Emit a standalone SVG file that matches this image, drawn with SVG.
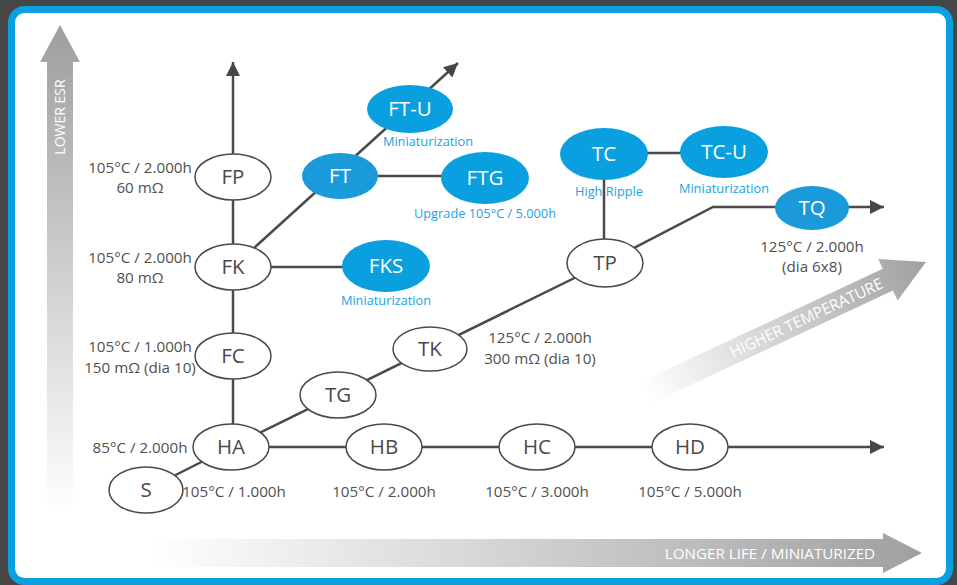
<svg xmlns="http://www.w3.org/2000/svg" width="957" height="585" viewBox="0 0 957 585">
<defs>
<linearGradient id="gUp" x1="0" y1="25" x2="0" y2="513" gradientUnits="userSpaceOnUse">
<stop offset="0" stop-color="#9e9e9e"/><stop offset="1" stop-color="#ffffff"/>
</linearGradient>
<linearGradient id="gRight" x1="150" y1="0" x2="922" y2="0" gradientUnits="userSpaceOnUse">
<stop offset="0" stop-color="#ffffff"/><stop offset="1" stop-color="#a0a0a0"/>
</linearGradient>
<linearGradient id="gDiag" x1="0" y1="0" x2="310" y2="0" gradientUnits="userSpaceOnUse">
<stop offset="0" stop-color="#ffffff"/><stop offset="1" stop-color="#a0a0a0"/>
</linearGradient>
<marker id="ah" markerUnits="userSpaceOnUse" markerWidth="15" markerHeight="15" refX="14" refY="7" orient="auto" viewBox="0 0 15 14">
<path d="M0,0 L14,7 L0,14 z" fill="#464646"/>
</marker>
<style>
.edge{stroke:#4a4a4a;stroke-width:2.5;fill:none}
.wn{fill:#ffffff;stroke:#4a4a4a;stroke-width:1.5}
.bn{fill:#0aa0e0}
.wt{font-family:"Open Sans","Noto Sans",sans-serif;font-size:20.5px;fill:#4a4a4a;text-anchor:middle}
.bt{font-family:"Open Sans","Noto Sans",sans-serif;font-size:20.5px;fill:#ffffff;text-anchor:middle}
.lab{font-family:"Open Sans","Noto Sans",sans-serif;font-size:15.2px;fill:#505050;text-anchor:middle}
.blab{font-family:"Open Sans","Noto Sans",sans-serif;font-size:12.8px;fill:#1aa3e2;text-anchor:middle}
.ax{font-family:"Open Sans","Noto Sans",sans-serif;font-size:14px;fill:#ffffff;text-anchor:middle}
</style>
</defs>
<rect x="0" y="0" width="957" height="585" fill="#464646"/>
<rect x="11.5" y="9.5" width="938" height="572" rx="13" fill="#ffffff" stroke="#0a9fe0" stroke-width="7"/>

<g id="axis-esr">
<path d="M47,513 L47,62 L40,62 L60,25 L80,62 L73,62 L73,513 z" fill="url(#gUp)"/>
<text class="ax" transform="translate(65,117) rotate(-90)">LOWER ESR</text>
</g>
<g id="axis-life">
<path d="M150,539 L883,539 L883,533 L922,553 L883,573 L883,567 L150,567 z" fill="url(#gRight)"/>
<text class="ax" x="770" y="559" style="font-size:15.2px">LONGER LIFE / MINIATURIZED</text>
</g>
<g id="axis-temp" transform="translate(645,393) rotate(-25)">
<path d="M0,-12 L268,-12 L268,-23 L310,0 L268,23 L268,12 L0,12 z" fill="url(#gDiag)"/>
<text class="ax" x="178" y="5.5" style="font-size:15.5px">HIGHER TEMPERATURE</text>
</g>

<g id="connectors">
<line class="edge" x1="233" y1="154" x2="233" y2="62" marker-end="url(#ah)"/>
<line class="edge" x1="233" y1="200" x2="233" y2="424"/>
<line class="edge" x1="146" y1="490" x2="231" y2="447"/>
<line class="edge" x1="231" y1="447" x2="605" y2="263"/>
<line class="edge" x1="231" y1="447" x2="884" y2="447" marker-end="url(#ah)"/>
<line class="edge" x1="233" y1="267" x2="458" y2="63" marker-end="url(#ah)"/>
<line class="edge" x1="340" y1="176" x2="485" y2="176"/>
<line class="edge" x1="233" y1="267" x2="386" y2="267"/>
<line class="edge" x1="604" y1="154" x2="604" y2="263"/>
<line class="edge" x1="604" y1="153" x2="724" y2="153"/>
<polyline class="edge" points="605,263 713,207 884,207" marker-end="url(#ah)"/>
</g>

<g id="FP"><ellipse class="wn" cx="233" cy="177" rx="38" ry="23"/><text class="wt" x="233" y="184">FP</text></g>
<g id="FK"><ellipse class="wn" cx="233" cy="267" rx="38" ry="23"/><text class="wt" x="233" y="274">FK</text></g>
<g id="FC"><ellipse class="wn" cx="233" cy="356" rx="38" ry="23"/><text class="wt" x="233" y="363">FC</text></g>
<g id="HA"><ellipse class="wn" cx="231" cy="447" rx="38" ry="23"/><text class="wt" x="231" y="454">HA</text></g>
<g id="S"><ellipse class="wn" cx="146" cy="490" rx="37" ry="23"/><text class="wt" x="146" y="497">S</text></g>
<g id="HB"><ellipse class="wn" cx="384" cy="447" rx="38" ry="23"/><text class="wt" x="384" y="454">HB</text></g>
<g id="HC"><ellipse class="wn" cx="537" cy="447" rx="38" ry="23"/><text class="wt" x="537" y="454">HC</text></g>
<g id="HD"><ellipse class="wn" cx="690" cy="447" rx="38" ry="23"/><text class="wt" x="690" y="454">HD</text></g>
<g id="TG"><ellipse class="wn" cx="338" cy="395" rx="38" ry="23"/><text class="wt" x="338" y="402">TG</text></g>
<g id="TK"><ellipse class="wn" cx="430" cy="349" rx="37" ry="22"/><text class="wt" x="430" y="356">TK</text></g>
<g id="TP"><ellipse class="wn" cx="605" cy="263" rx="38" ry="24"/><text class="wt" x="605" y="270">TP</text></g>

<g id="FT"><ellipse class="bn" cx="340" cy="176" rx="38" ry="23" style="fill:#1a9ad8"/><text class="bt" x="340" y="183">FT</text></g>
<g id="FT-U"><ellipse class="bn" cx="410" cy="109" rx="43" ry="24"/><text class="bt" x="410" y="116">FT-U</text><text class="blab" x="428" y="146">Miniaturization</text></g>
<g id="FTG"><ellipse class="bn" cx="485" cy="178" rx="44" ry="26"/><text class="bt" x="485" y="185">FTG</text><text class="blab" x="485" y="218">Upgrade 105°C / 5.000h</text></g>
<g id="FKS"><ellipse class="bn" cx="386" cy="266" rx="44" ry="26"/><text class="bt" x="386" y="273">FKS</text><text class="blab" x="386" y="305">Miniaturization</text></g>
<g id="TC"><ellipse class="bn" cx="604" cy="154" rx="44" ry="26"/><text class="bt" x="604" y="161">TC</text><text class="blab" x="609" y="196">High Ripple</text></g>
<g id="TC-U"><ellipse class="bn" cx="724" cy="152" rx="44" ry="26"/><text class="bt" x="724" y="159">TC-U</text><text class="blab" x="724" y="193">Miniaturization</text></g>
<g id="TQ"><ellipse class="bn" cx="812" cy="208" rx="37" ry="22" style="fill:#1a9ad8"/><text class="bt" x="812" y="215">TQ</text></g>

<g id="labels">
<text class="lab" x="140" y="173">105°C / 2.000h</text>
<text class="lab" x="140" y="193">60 mΩ</text>
<text class="lab" x="140" y="263">105°C / 2.000h</text>
<text class="lab" x="140" y="283">80 mΩ</text>
<text class="lab" x="140" y="352">105°C / 1.000h</text>
<text class="lab" x="140" y="373">150 mΩ (dia 10)</text>
<text class="lab" x="140" y="453">85°C / 2.000h</text>
<text class="lab" x="234" y="497">105°C / 1.000h</text>
<text class="lab" x="384" y="497">105°C / 2.000h</text>
<text class="lab" x="537" y="497">105°C / 3.000h</text>
<text class="lab" x="690" y="497">105°C / 5.000h</text>
<text class="lab" x="540" y="343">125°C / 2.000h</text>
<text class="lab" x="540" y="364">300 mΩ (dia 10)</text>
<text class="lab" x="812" y="252">125°C / 2.000h</text>
<text class="lab" x="812" y="272">(dia 6x8)</text>
</g>
</svg>
